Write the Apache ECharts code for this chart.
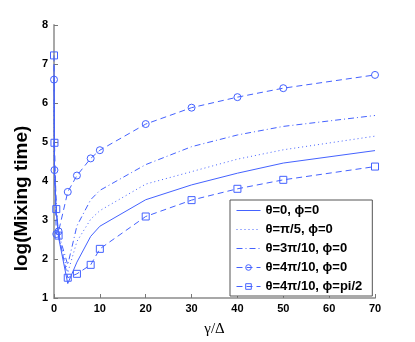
<!DOCTYPE html>
<html>
<head>
<meta charset="utf-8">
<script src="https://cdn.jsdelivr.net/npm/echarts@6/dist/echarts.min.js"></script>
<style>
  html, body { margin: 0; padding: 0; background: #fff; }
  #canvas { width: 415px; height: 342px; }
</style>
</head>
<body>
<div id="canvas"></div>
<script>
// gamma/Delta values
var xs = [0, 0.1, 0.5, 1, 3, 5, 8, 10, 20, 30, 40, 50, 70];

// log(Mixing time) for each curve
var theta0 = [7.0, 4.3, 3.2, 2.55, 1.37, 1.92, 2.58, 2.84, 3.52, 3.9, 4.2, 4.46, 4.78];
var thetaPi5 = [6.0, 4.3, 3.25, 2.6, 1.65, 2.45, 3.02, 3.24, 3.92, 4.24, 4.56, 4.8, 5.15];
var theta3Pi10 = [5.0, 4.3, 3.3, 2.65, 1.85, 2.85, 3.52, 3.76, 4.42, 4.88, 5.18, 5.4, 5.68];
var theta4Pi10 = [6.6, 4.28, 2.64, 2.71, 3.72, 4.14, 4.58, 4.79, 5.46, 5.88, 6.15, 6.38, 6.72];
var theta4Pi10Half = [7.22, 4.98, 3.28, 2.6, 1.52, 1.62, 1.85, 2.26, 3.09, 3.51, 3.80, 4.03, 4.37];

var names = ['θ=0, ϕ=0', 'θ=π/5, ϕ=0', 'θ=3π/10, ϕ=0', 'θ=4π/10, ϕ=0', 'θ=4π/10, ϕ=pi/2'];
var dashes = ['solid', [1, 3], [6, 3, 1, 3], [6, 4], [6, 4]];
var symbols = [null, null, null, 'circle', 'rect'];
var curves = [theta0, thetaPi5, theta3Pi10, theta4Pi10, theta4Pi10Half];

var blue = '#4462ff';

function pairs(ys) {
    return xs.map(function (x, i) { return [x, ys[i]]; });
}

function makeSeries(i) {
    return {
        name: names[i],
        type: 'line',
        data: pairs(curves[i]),
        symbol: symbols[i] || 'none',
        symbolSize: 7,
        showSymbol: !!symbols[i],
        itemStyle: { color: 'rgba(255,255,255,0)', borderColor: blue, borderWidth: 1 },
        lineStyle: { color: blue, width: 1, type: dashes[i] },
        animation: false
    };
}

var myChart = echarts.init(document.getElementById('canvas'));

var axisFont = { color: '#000', fontSize: 11, fontWeight: 'bold', fontFamily: 'Liberation Sans, Arial, sans-serif' };

// legend entries: line sample with each curve's dash, marker only where the curve has one
var legendData = names.map(function (n, i) {
    return {
        name: n,
        lineStyle: { color: blue, width: 1, type: dashes[i] },
        itemStyle: symbols[i]
            ? { color: 'rgba(255,255,255,0)', borderColor: blue, borderWidth: 1 }
            : { opacity: 0 }
    };
});

var option = {
    backgroundColor: '#fff',
    grid: { left: 54, right: 40, top: 25, bottom: 39 },
    xAxis: {
        type: 'value',
        min: 0, max: 70, interval: 10,
        name: 'γ/Δ',
        nameLocation: 'middle',
        nameGap: 24,
        nameTextStyle: { color: '#000', fontSize: 15, fontFamily: 'Liberation Serif, serif' },
        axisLine: { lineStyle: { color: '#a8a8a8', width: 2 } },
        axisTick: { inside: true, length: 4, lineStyle: { color: '#777' } },
        axisLabel: Object.assign({ margin: 5 }, axisFont),
        splitLine: { show: false }
    },
    yAxis: {
        type: 'value',
        min: 1, max: 8, interval: 1,
        name: 'log(Mixing time)',
        nameLocation: 'middle',
        nameGap: 9,
        nameTextStyle: { color: '#000', fontSize: 19, fontWeight: 'bold', fontFamily: 'Liberation Sans, Arial, sans-serif', padding: [0, 74, 0, 0] },
        axisLine: { lineStyle: { color: '#a8a8a8', width: 2 } },
        axisTick: { inside: true, length: 4, lineStyle: { color: '#777' } },
        axisLabel: Object.assign({ margin: 6 }, axisFont),
        splitLine: { show: false }
    },
    legend: {
        orient: 'vertical',
        left: 230,
        top: 200,
        padding: [4, 10, 3, 6],
        itemWidth: 24,
        itemHeight: 7,
        itemGap: 6,
        borderColor: '#555',
        borderWidth: 1,
        backgroundColor: '#fff',
        textStyle: { color: '#000', fontSize: 13, fontWeight: 'bold', fontFamily: 'Liberation Sans, Arial, sans-serif' },
        data: legendData
    },
    series: [0, 1, 2, 3, 4].map(makeSeries)
};

myChart.setOption(option);
</script>
</body>
</html>
